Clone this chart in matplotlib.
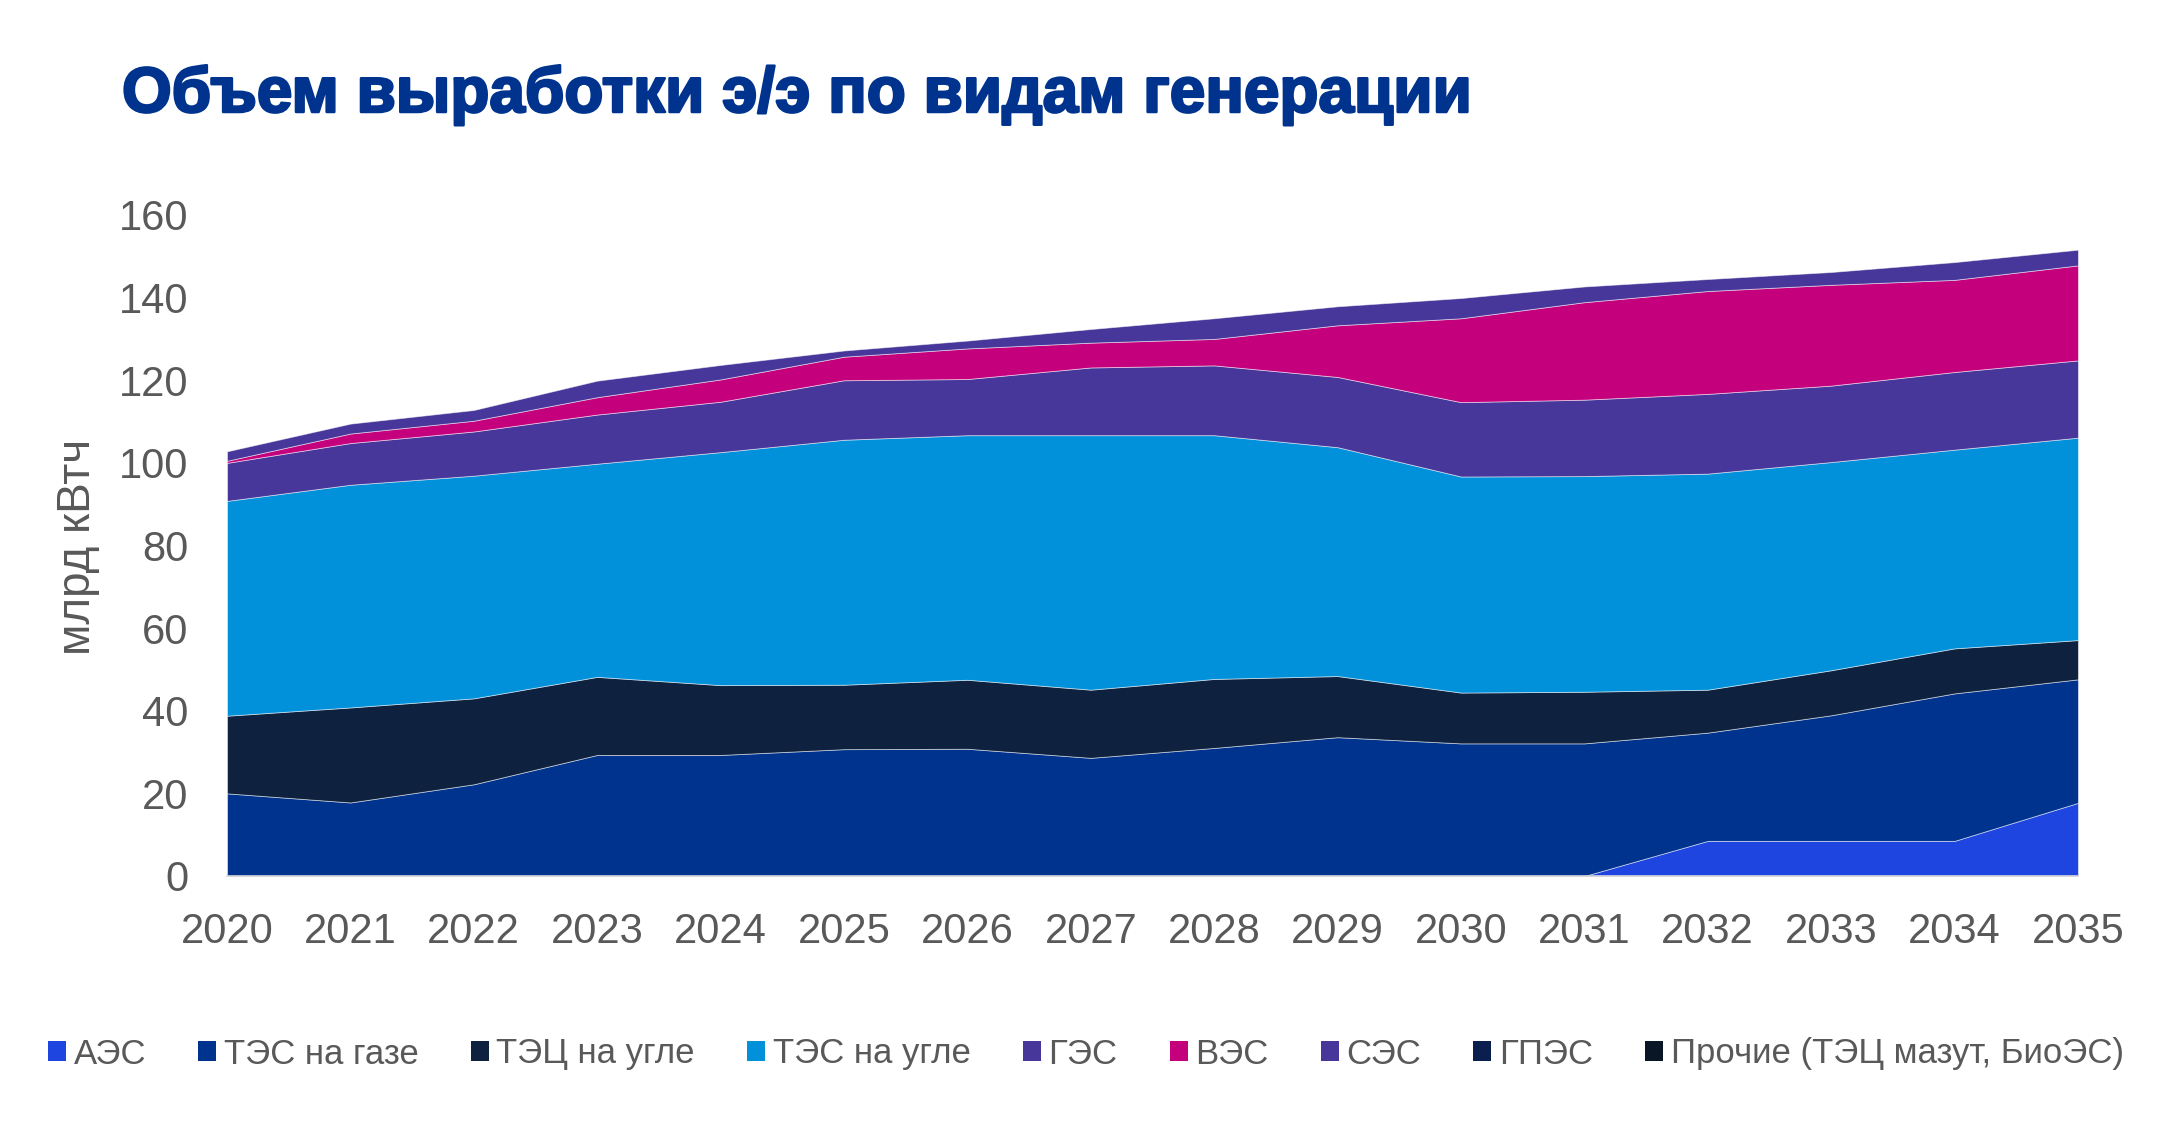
import matplotlib
matplotlib.use('Agg')
import matplotlib.pyplot as plt
import matplotlib.patheffects as pe
from matplotlib.patches import Patch

# values, bn kWh per generation type
years = list(range(2020, 2036))
aes = [0, 0, 0, 0, 0, 0, 0, 0, 0, 0, 0, 0, 8.5, 8.5, 8.5, 17.7]
tes_gas = [20.0, 17.8, 22.2, 29.3, 29.3, 30.7, 30.8, 28.6, 31.0, 33.6, 32.1, 32.1, 26.2, 30.4, 35.7, 29.9]
tec_coal = [18.8, 23.0, 20.8, 18.9, 16.9, 15.6, 16.7, 16.5, 16.7, 14.8, 12.3, 12.5, 10.4, 10.9, 10.9, 9.5]
tes_coal = [52.0, 53.9, 53.9, 51.6, 56.4, 59.3, 59.2, 61.6, 59.0, 55.4, 52.3, 52.2, 52.3, 50.4, 48.1, 49.0]
ges = [9.2, 10.1, 10.7, 11.9, 12.2, 14.4, 13.6, 16.4, 16.9, 17.0, 18.0, 18.5, 19.3, 18.5, 18.8, 18.7]
ves = [0.5, 2.3, 2.6, 4.2, 5.4, 5.7, 7.4, 6.0, 6.4, 12.5, 20.3, 23.6, 24.9, 24.4, 22.3, 23.0]
ses = [2.3, 2.4, 2.6, 4.0, 3.5, 1.5, 1.9, 3.3, 5.0, 4.6, 4.9, 3.8, 2.9, 3.1, 4.3, 3.8]
gpes = [0] * 16
other = [0] * 16

labels = ['АЭС', 'ТЭС на газе', 'ТЭЦ на угле', 'ТЭС на угле', 'ГЭС', 'ВЭС',
          'СЭС', 'ГПЭС', 'Прочие (ТЭЦ мазут, БиоЭС)']
colors = ['#1F45E0', '#00338D', '#0E223F', '#0091DA', '#47379A', '#C5007D',
          '#47379A', '#0B1F4F', '#091626']
y_ticks = [0, 20, 40, 60, 80, 100, 120, 140, 160]

plt.rcParams['font.family'] = ['Liberation Sans', 'DejaVu Sans']
gray = '#595959'

fig = plt.figure(figsize=(21.6, 11.43), dpi=100)
fig.patch.set_facecolor('white')
ax = fig.add_axes([0.1051, 0.2336, 0.8569, 0.5783])

series = [aes, tes_gas, tec_coal, tes_coal, ges, ves, ses, gpes, other]
polys = ax.stackplot(years, *series, colors=colors,
                     edgecolor=(1, 1, 1, 0.55), linewidth=0.6)
for p in polys[-2:]:
    p.set_linewidth(0)

ax.set_xlim(2020, 2035)
ax.set_ylim(0, 160)
ax.set_xticks(years)
ax.set_yticks(y_ticks)
ax.tick_params(axis='x', length=0, pad=26, labelsize=30, labelcolor=gray)
ax.tick_params(axis='y', length=0, pad=28, labelsize=30, labelcolor=gray)
for s in ['top', 'right', 'left']:
    ax.spines[s].set_visible(False)
ax.spines['bottom'].set_color('#D9D9D9')
ax.spines['bottom'].set_linewidth(1.2)

fig.text(78 / 2160, 1 - 547 / 1143, 'млрд кВтч', rotation=90,
         ha='center', va='center', fontsize=33, color=gray)

fig.text(122 / 2160, 1 - 112 / 1143, 'Объем выработки э/э по видам генерации',
         ha='left', va='baseline', fontsize=46, fontweight='bold',
         color='#00338D',
         path_effects=[pe.withStroke(linewidth=1.8, foreground='#00338D')])

handles = [Patch(facecolor=c, edgecolor='none') for c in colors]
fig.legend(handles, labels, loc='center left',
           bbox_to_anchor=(48 / 2160, 1 - 1054 / 1143),
           ncol=9, frameon=False, fontsize=25, labelcolor=gray,
           handlelength=0.52, handleheight=0.52, handletextpad=0.22,
           columnspacing=1.5, borderpad=0, borderaxespad=0)

fig.savefig('out.png', dpi=100, facecolor='white')
